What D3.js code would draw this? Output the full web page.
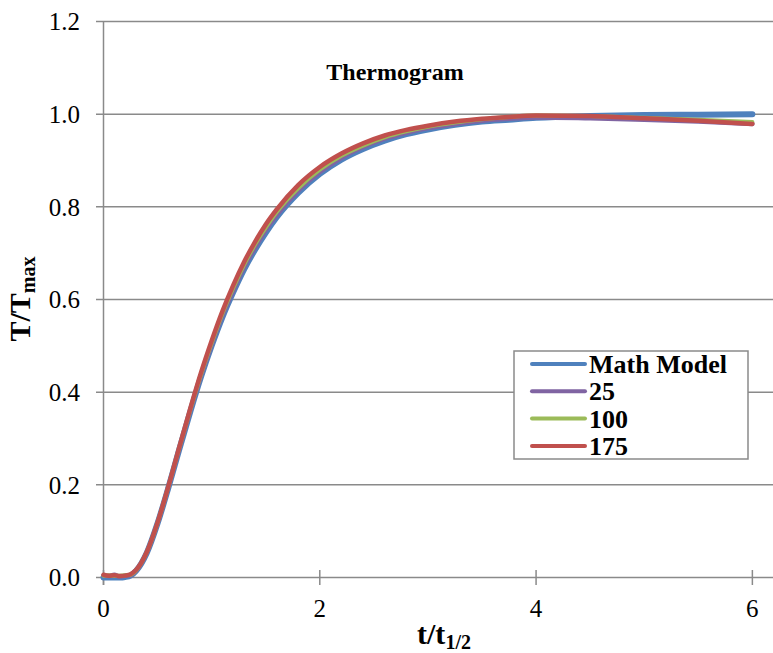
<!DOCTYPE html>
<html><head><meta charset="utf-8">
<script src="https://cdn.jsdelivr.net/npm/d3@7"></script>
<style>body{margin:0;background:#fff}svg{display:block}</style>
</head><body>
<svg id="c" width="773" height="653"></svg>
<script>
// ---- data ----
const tValues = [0,0.05,0.1,0.15,0.2,0.25,0.3,0.4,0.5,0.6,0.7,0.8,0.9,1.0,1.1,1.2,1.3,1.4,1.5,1.6,1.8,2.0,2.2,2.4,2.6,2.8,3.0,3.25,3.5,3.75,4.0,4.5,5.0,5.5,6.0];
const mathModel = [0,0,0,0,0.001,0.004,0.014,0.053,0.117,0.194,0.276,0.356,0.432,0.500,0.562,0.616,0.665,0.707,0.744,0.777,0.830,0.871,0.902,0.925,0.943,0.957,0.967,0.977,0.984,0.988,0.992,0.996,0.998,0.999,1.000];
const s25  = [0.005,0.003,0.006,0.002,0.004,0.005,0.014,0.053,0.117,0.195,0.277,0.358,0.434,0.503,0.566,0.620,0.670,0.712,0.750,0.782,0.835,0.875,0.906,0.929,0.947,0.960,0.970,0.979,0.986,0.990,0.993,0.991,0.988,0.984,0.979];
const s100 = [0.004,0.005,0.003,0.004,0.005,0.006,0.015,0.054,0.118,0.196,0.279,0.360,0.437,0.506,0.570,0.625,0.675,0.718,0.755,0.788,0.840,0.880,0.910,0.932,0.950,0.963,0.973,0.982,0.989,0.994,0.997,0.996,0.992,0.988,0.983];
const s175 = [0.006,0.004,0.005,0.003,0.004,0.007,0.016,0.055,0.119,0.197,0.281,0.363,0.441,0.511,0.575,0.631,0.681,0.724,0.762,0.794,0.847,0.886,0.915,0.937,0.954,0.966,0.975,0.984,0.990,0.994,0.997,0.996,0.991,0.986,0.979];
const seriesNames = ["Math Model","25","100","175"];
const seriesColors = ["#4F81BD","#8064A2","#9BBB59","#C0504D"];
const seriesWidths = [6,4.5,4,4.5];
const xTicks = [0,2,4,6];
const yTicks = [0,0.2,0.4,0.6,0.8,1.0,1.2];
const chartTitle = "Thermogram";

const FONT = "Liberation Serif";
const svg = d3.select("#c");
const x = d3.scaleLinear().domain([0,6.2]).range([103.5,774]);
const y = d3.scaleLinear().domain([0,1.2]).range([577.5,21.5]);
const grey = "#8a8a8a";

// gridlines
svg.append("g").selectAll("line").data(yTicks).join("line")
  .attr("x1",96).attr("x2",773).attr("y1",d=>y(d)).attr("y2",d=>y(d))
  .attr("stroke",grey).attr("stroke-width",1.5);
// y axis line
svg.append("line").attr("x1",x(0)).attr("x2",x(0)).attr("y1",y(1.2)).attr("y2",585)
  .attr("stroke",grey).attr("stroke-width",1.5);
// x ticks
svg.append("g").selectAll("line").data(xTicks).join("line")
  .attr("x1",d=>x(d)).attr("x2",d=>x(d)).attr("y1",570).attr("y2",585)
  .attr("stroke",grey).attr("stroke-width",1.5);
// tick labels
svg.append("g").selectAll("text").data(yTicks).join("text")
  .attr("font-family",FONT)
  .attr("x",80).attr("y",d=>y(d)).attr("dy","0.35em").attr("text-anchor","end")
  .attr("font-size",25).text(d=>d3.format(".1f")(d));
svg.append("g").selectAll("text").data(xTicks).join("text")
  .attr("font-family",FONT)
  .attr("x",d=>x(d)).attr("y",617).attr("text-anchor","middle")
  .attr("font-size",25).text(d=>d);

// series
const all = [mathModel,s25,s100,s175];
const line = d3.line().x((d,i)=>x(tValues[i])).y(d=>y(d)).curve(d3.curveMonotoneX);
all.forEach((s,k)=>{
  svg.append("path").attr("d",line(s)).attr("fill","none")
    .attr("stroke",seriesColors[k]).attr("stroke-width",seriesWidths[k])
    .attr("stroke-linejoin","round").attr("stroke-linecap","round");
});

// title
svg.append("text").attr("font-family",FONT).attr("x",395).attr("y",80).attr("text-anchor","middle")
  .attr("font-size",24).attr("font-weight","bold").text(chartTitle);

// axis titles
const xt = svg.append("text").attr("font-family",FONT).attr("x",444).attr("y",644).attr("text-anchor","middle")
  .attr("font-size",30).attr("font-weight","bold");
xt.append("tspan").text("t/t");
xt.append("tspan").attr("font-size",20).attr("dy",5).text("1/2");

const yt = svg.append("text").attr("font-family",FONT).attr("transform","translate(30,299) rotate(-90)").attr("text-anchor","middle")
  .attr("font-size",30).attr("font-weight","bold");
yt.append("tspan").text("T/T");
yt.append("tspan").attr("font-size",20).attr("dy",5).text("max");

// legend
const lg = svg.append("g");
lg.append("rect").attr("x",514).attr("y",351).attr("width",234).attr("height",108)
  .attr("fill","#fff").attr("stroke",grey).attr("stroke-width",1.5);
seriesNames.forEach((n,k)=>{
  const yy = 364 + k*27.3;
  lg.append("line").attr("x1",532).attr("x2",585).attr("y1",yy).attr("y2",yy)
    .attr("stroke",seriesColors[k]).attr("stroke-width",4).attr("stroke-linecap","round");
  lg.append("text").attr("font-family",FONT).attr("x",589).attr("y",yy).attr("dy","0.35em")
    .attr("font-size",26).attr("font-weight","bold").text(n);
});
</script>
</body></html>
